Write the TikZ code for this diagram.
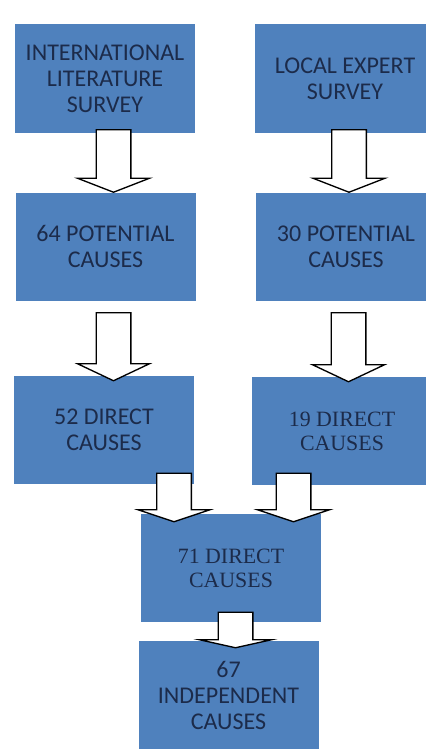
\documentclass[tikz,border=0pt]{standalone}
\usepackage{fontspec}
\usepackage{tikz}
\usetikzlibrary{calc}
\newfontfamily\calibrifont{Carlito}
\newfontfamily\timesfont{Liberation Serif}
\definecolor{boxblue}{HTML}{4F81BD}
\definecolor{boxtext}{HTML}{1C2B4A}
\tikzset{
    causebox/.style={rectangle,fill=boxblue,text=boxtext,minimum width=135pt,minimum height=81pt,inner sep=0pt,align=center,
        font=\calibrifont\fontsize{18}{19.5}\selectfont},
    serifbox/.style={causebox,font=\timesfont\fontsize{16.4}{18}\selectfont},
    blockarr/.style={draw=black,fill=white,line width=1pt,line join=miter}
}
% white block arrow: shaft from #2 down to the tip #3, head length #1
\newcommand{\blockarrow}[3][10.5pt]{%
    \draw[blockarr] let \p1=(#2), \p2=(#3) in
        (\x1-13pt,\y1) -- (\x1+13pt,\y1) -- (\x1+13pt,\y2+#1) -- (\x1+27pt,\y2+#1)
        -- (\x1,\y2) -- (\x1-27pt,\y2+#1) -- (\x1-13pt,\y2+#1) -- cycle;}

\begin{document}
\begin{tikzpicture}[x=0.75pt,y=-0.75pt]
\useasboundingbox (0,0) rectangle (425,749);
% survey boxes
\node[causebox] (lit) at (105,78.5) {INTERNATIONAL\\LITERATURE\\SURVEY};
\node[causebox] (local) at (345,78.5) {LOCAL EXPERT\\SURVEY};
% potential causes
\node[causebox] (pot64) at (105.5,246.5) {64 POTENTIAL\\CAUSES};
\node[causebox] (pot30) at (346,246.5) {30 POTENTIAL\\CAUSES};
% direct causes
\node[causebox] (dir52) at (104,430) {52 DIRECT\\CAUSES};
\node[serifbox] (dir19) at (342,431) {19 DIRECT\\CAUSES};
\node[serifbox] (dir71) at (231,568) {71 DIRECT\\CAUSES};
\node[causebox] (indep) at (228.5,695) {67\\INDEPENDENT\\CAUSES};

\blockarrow{$(lit.south)+(8.5,-3)$}{$(pot64.north)+(8,0)$}
\blockarrow{$(local.south)+(4,-3)$}{$(pot30.north)+(3,0)$}
\blockarrow[12.75pt]{$(pot64.south)+(8,12)$}{$(dir52.north)+(9.5,5)$}
\blockarrow[12.75pt]{$(pot30.south)+(2.5,12)$}{$(dir19.north)+(6.5,5)$}
\blockarrow[9pt]{$(dir52.south)+(70,-11)$}{$(dir71.north)+(-57,8)$}
\blockarrow[9pt]{$(dir19.south)+(-48.5,-12)$}{$(dir71.north)+(62.5,8)$}
\blockarrow[6pt]{$(dir71.south)+(4.5,-10)$}{$(indep.north)+(7,7)$}
\end{tikzpicture}
\end{document}
